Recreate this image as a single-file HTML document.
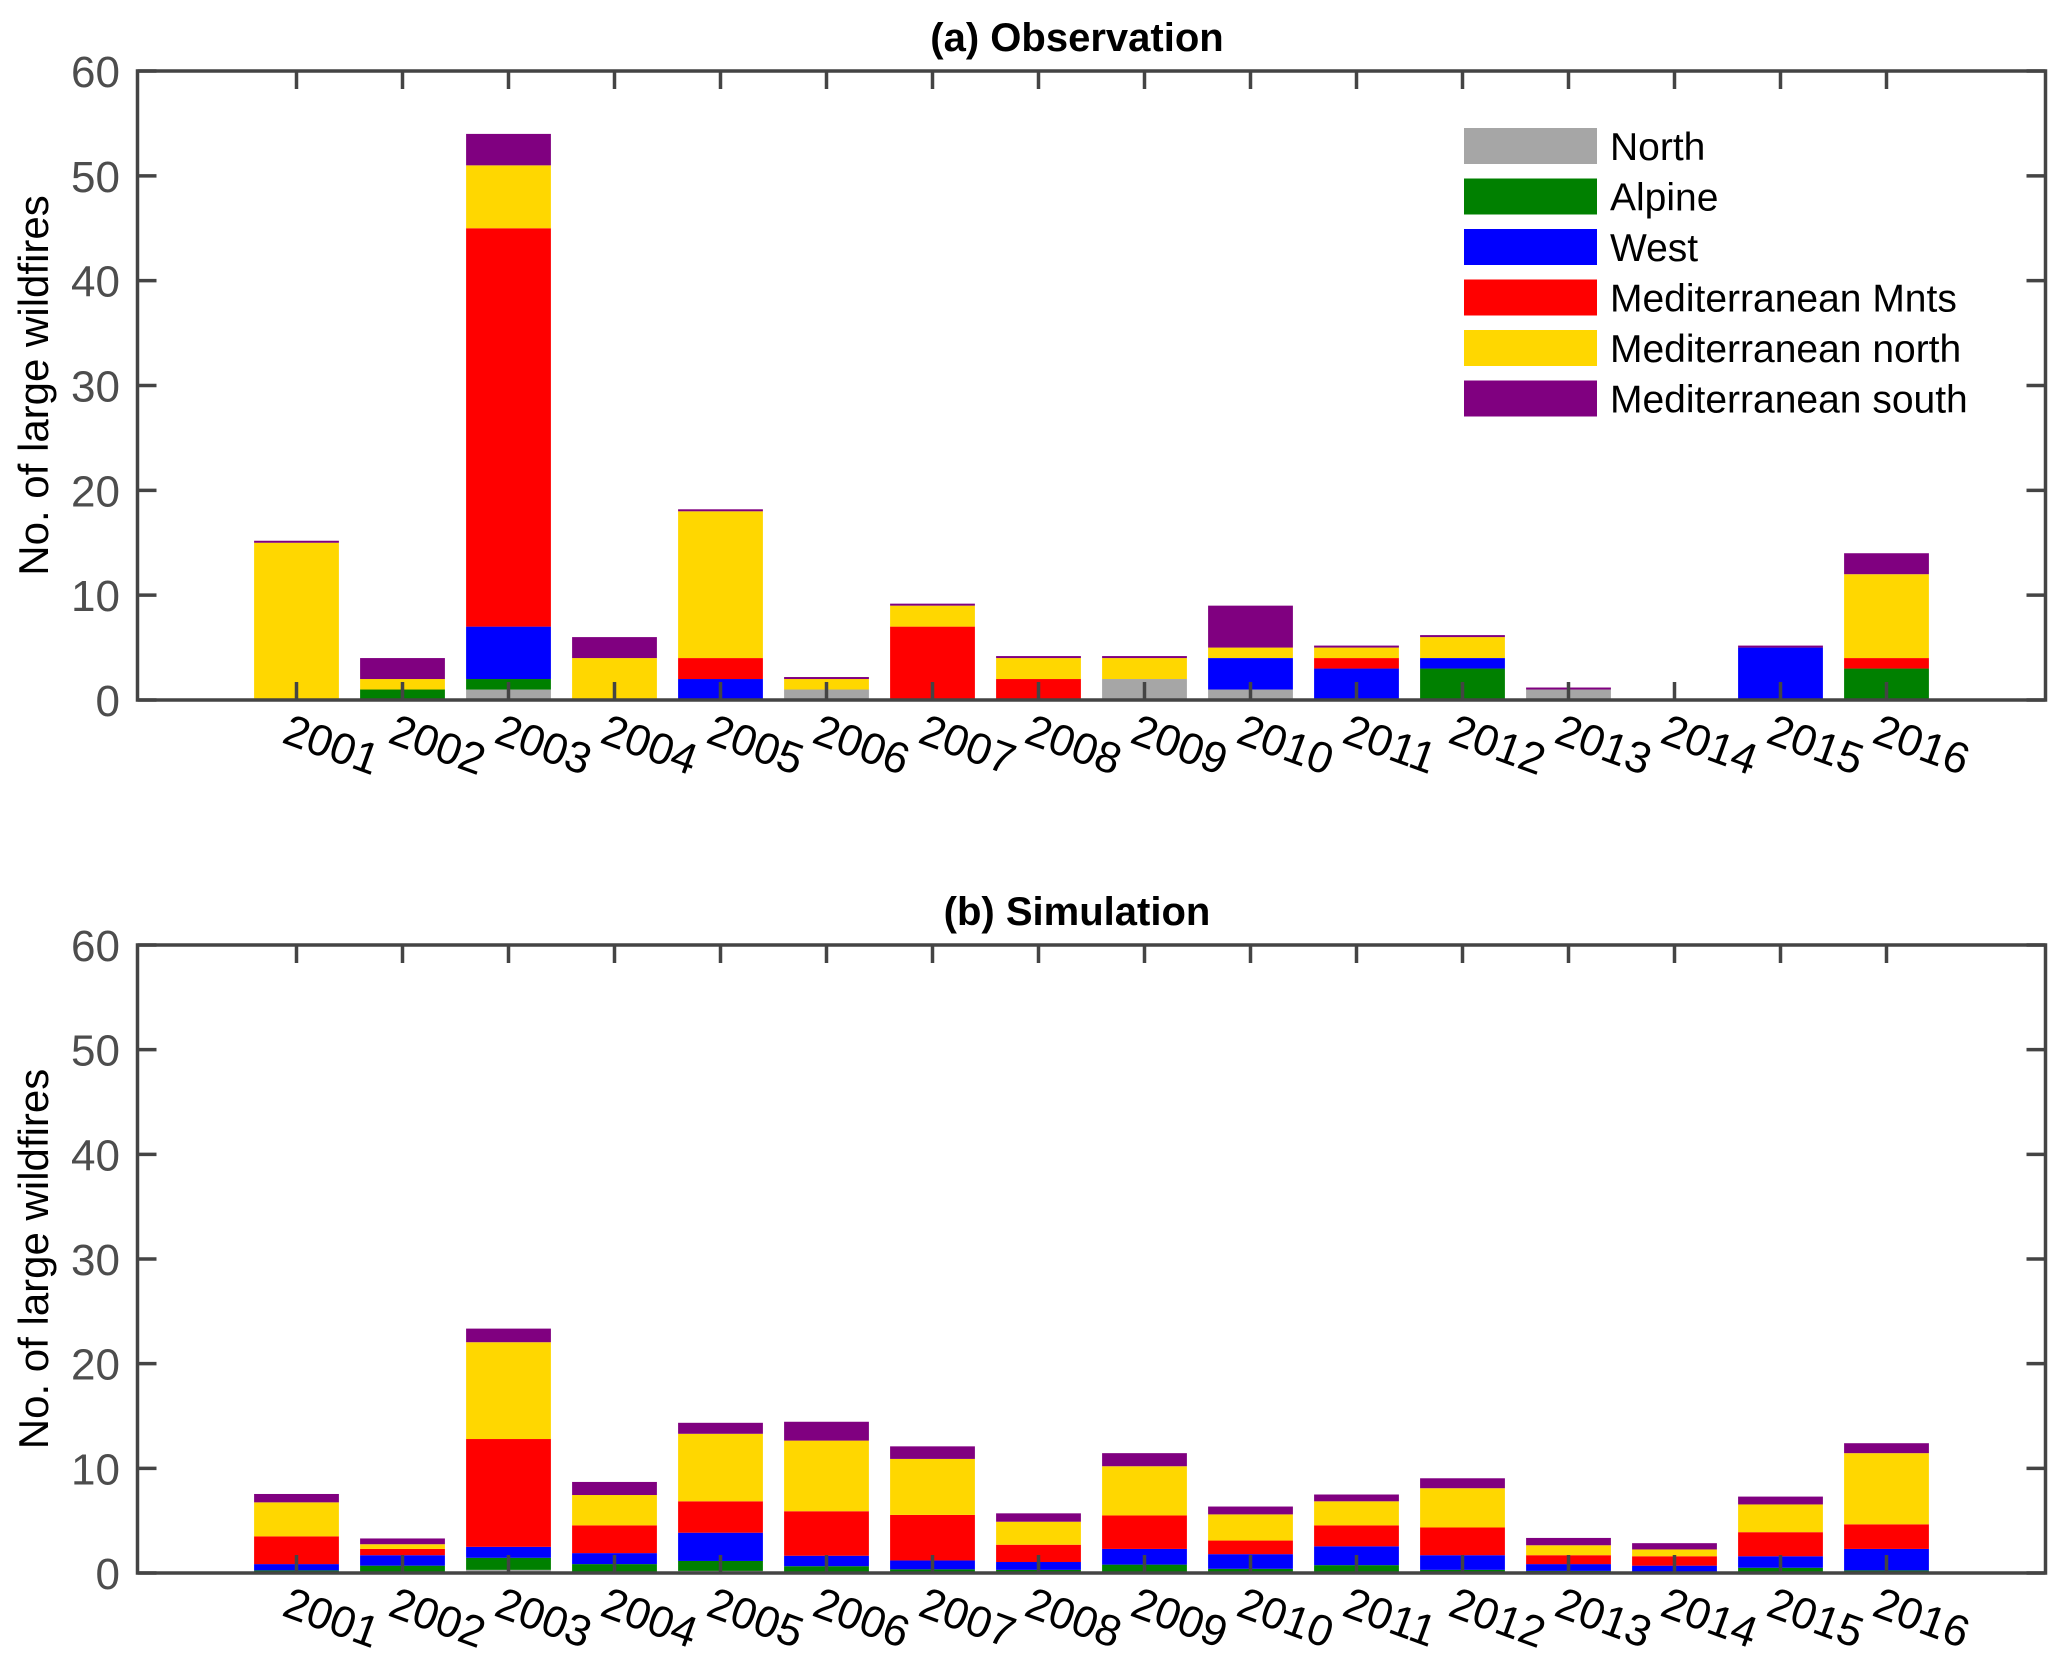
<!DOCTYPE html>
<html><head><meta charset="utf-8">
<style>
html,body{margin:0;padding:0;background:#fff;}
svg{display:block;font-family:"Liberation Sans",Arial,sans-serif;}
</style></head>
<body>
<svg id="chart" width="2067" height="1670" viewBox="0 0 2067 1670" xmlns="http://www.w3.org/2000/svg"></svg>
<script>
const years = ["2001","2002","2003","2004","2005","2006","2007","2008","2009","2010","2011","2012","2013","2014","2015","2016"];
const seriesNames = ["North","Alpine","West","Mediterranean Mnts","Mediterranean north","Mediterranean south"];
const seriesColors = ["#a6a6a6","#008000","#0000ff","#ff0000","#ffd700","#800080"];
const yTicks = [0,10,20,30,40,50,60];

const obsNorth  = [0,0,1,0,0,1,0,0,2,1,0,0,1,0,0,0];
const obsAlpine = [0,1,1,0,0,0,0,0,0,0,0,3,0,0,0,3];
const obsWest   = [0,0,5,0,2,0,0,0,0,3,3,1,0,0,5,0];
const obsMedMnts= [0,0,38,0,2,0,7,2,0,0,1,0,0,0,0,1];
const obsMedN   = [15,1,6,4,14,1,2,2,2,1,1,2,0,0,0,8];
const obsMedS   = [0,2,3,2,0,0,0,0,0,4,0,0,0,0,0,2];

const simNorth  = [0.1,0.05,0.3,0.1,0.2,0.1,0.1,0.1,0.1,0.1,0.1,0.1,0.05,0.05,0.1,0.1];
const simAlpine = [0.15,0.65,1.15,0.75,0.95,0.55,0.25,0.2,0.7,0.3,0.65,0.2,0.15,0.05,0.4,0.15];
const simWest   = [0.6,1.0,1.05,1.05,2.7,1.0,0.85,0.75,1.5,1.4,1.8,1.4,0.65,0.6,1.1,2.05];
const simMedMnts= [2.65,0.6,10.3,2.65,3.0,4.25,4.35,1.65,3.2,1.3,2.0,2.65,0.85,0.9,2.3,2.35];
const simMedN   = [3.25,0.45,9.25,2.9,6.45,6.75,5.35,2.2,4.7,2.5,2.3,3.75,0.95,0.65,2.65,6.8];
const simMedS   = [0.8,0.55,1.3,1.25,1.05,1.8,1.2,0.8,1.25,0.75,0.65,0.95,0.7,0.6,0.75,0.95];

const NS="http://www.w3.org/2000/svg";
const svg=document.getElementById('chart');
function mk(tag,attrs,parent){const e=document.createElementNS(NS,tag);for(const k in attrs)e.setAttribute(k,attrs[k]);(parent||svg).appendChild(e);return e;}

const X0=137.5, X1=2045.5, XMIN=-0.5, XMAX=17.5;
function xs(i){return X0+(i-XMIN)/(XMAX-XMIN)*(X1-X0);}
const BW=0.8*(X1-X0)/(XMAX-XMIN);

function panel(top,bottom,title,series,key){
  const g=mk('g',{});
  
  
  const ys=v=>bottom-(v/60)*(bottom-top);
  for(let j=0;j<years.length;j++){
    let cum=0;
    const bg=mk('g',{},g);
    
    
    const xc=xs(j+1);
    for(let s=0;s<series.length;s++){
      const v=series[s][j];
      if(v>0){
        const r=mk('rect',{x:xc-BW/2,y:ys(cum+v),width:BW,height:ys(cum)-ys(cum+v),fill:seriesColors[s]},bg);
        
        
      }
      cum+=v;
    }
    if(cum>0 && series[5][j]===0){
      const l=mk('rect',{x:xc-BW/2,y:ys(cum)-2,width:BW,height:2,fill:seriesColors[5]},bg);
      
      
    }
  }
  const box=mk('rect',{x:X0,y:top,width:X1-X0,height:bottom-top,fill:'none',stroke:'#444',"stroke-width":3.5},g);
  
  
  for(let j=0;j<years.length;j++){
    const x=xs(j+1);
    mk('line',{x1:x,x2:x,y1:bottom,y2:bottom-18,stroke:'#444',"stroke-width":3.5},g);
    mk('line',{x1:x,x2:x,y1:top,y2:top+18,stroke:'#444',"stroke-width":3.5},g);
    const t=mk('text',{x:x-16,y:bottom+42,"font-size":44,fill:'#000',transform:`rotate(20 ${x-16} ${bottom+42})`},g);
    t.textContent=years[j];
    
    
  }
  for(const v of yTicks){
    const y=ys(v);
    mk('line',{x1:X0,x2:X0+19,y1:y,y2:y,stroke:'#444',"stroke-width":3.5},g);
    mk('line',{x1:X1,x2:X1-19,y1:y,y2:y,stroke:'#444',"stroke-width":3.5},g);
    const t=mk('text',{x:120,y:y+16,"font-size":44,fill:'#4d4d4d',"text-anchor":'end'},g);
    t.textContent=v;
    
    
  }
  const cy=(top+bottom)/2;
  const yt=mk('text',{x:48,y:cy,"font-size":42,fill:'#000',"text-anchor":'middle',transform:`rotate(-90 48 ${cy})`},g);
  yt.textContent='No. of large wildfires';
  
  
  const tt=mk('text',{x:1077,y:top-20,"font-size":40,"font-weight":'bold',fill:'#000',"text-anchor":'middle',"xml:space":'preserve'},g);
  tt.textContent=title;
  
  
}

panel(71,700,'(a)  Observation',[obsNorth,obsAlpine,obsWest,obsMedMnts,obsMedN,obsMedS],'observation');
panel(945,1573,'(b)  Simulation',[simNorth,simAlpine,simWest,simMedMnts,simMedN,simMedS],'simulation');

const lg=mk('g',{});


for(let s=0;s<seriesNames.length;s++){
  const y=128+s*50.5;
  const e=mk('g',{},lg);
  
  
  mk('rect',{x:1464,y:y,width:133,height:36,fill:seriesColors[s]},e);
  const t=mk('text',{x:1610,y:y+32,"font-size":39,fill:'#000'},e);
  t.textContent=seriesNames[s];
}
</script>
</body></html>
